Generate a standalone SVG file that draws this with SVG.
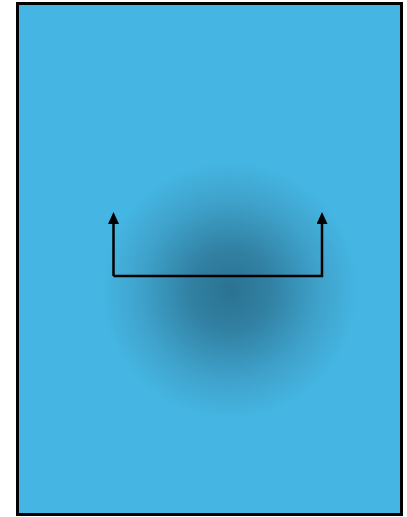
<svg xmlns="http://www.w3.org/2000/svg" width="407" height="517" viewBox="0 0 407 517">
<defs>
<radialGradient id="shade" cx="230" cy="290" r="130" gradientUnits="userSpaceOnUse">
<stop offset="0" stop-color="#2b7292"/>
<stop offset="0.3" stop-color="#3180a2"/>
<stop offset="0.7" stop-color="#3fa3cc"/>
<stop offset="1" stop-color="#45b6e3"/>
</radialGradient>
<marker id="ah" markerWidth="12" markerHeight="11" refX="6" refY="5.5" orient="auto" markerUnits="userSpaceOnUse">
<path d="M0,0 L12,5.5 L0,11 z" fill="#000"/>
</marker>
<style>.c{fill:none;stroke:#000;stroke-width:2.5}</style>
</defs>
<g id="background">
<rect x="17.5" y="3.5" width="384" height="511" fill="#45b6e3" stroke="#000" stroke-width="3"/>
<rect x="19" y="5" width="381" height="508" fill="url(#shade)"/>
</g>
<g id="connectors">
<path class="c" d="M113.5,276 H322 V218" marker-end="url(#ah)"/>
<path class="c" d="M113.5,276 V218" marker-end="url(#ah)"/>
</g>
</svg>
